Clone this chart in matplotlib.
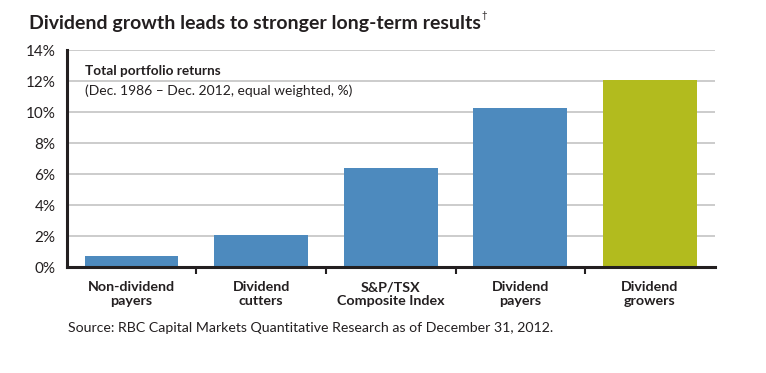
import matplotlib
matplotlib.use("Agg")
import matplotlib.pyplot as plt
from matplotlib.ticker import FixedLocator

categories = ["Non-dividend\npayers", "Dividend\ncutters", "S&P/TSX\nComposite Index",
              "Dividend\npayers", "Dividend\ngrowers"]
returns_pct = [0.7, 2.1, 6.4, 10.3, 12.1]
y_ticks = [0, 2, 4, 6, 8, 10, 12, 14]

FONT = ["Lato", "DejaVu Sans"]
TEXT = "#231F20"
BLUE = "#4D8ABE"
GREEN = "#B2BB1E"

plt.rcParams["font.family"] = FONT

fig = plt.figure(figsize=(7.66, 3.73), dpi=100)
ax = fig.add_axes([66.7 / 766, 1 - 267.3 / 373, 648 / 766, 217 / 373])

x = list(range(len(categories)))
colors = [BLUE] * (len(categories) - 1) + [GREEN]
ax.bar(x, returns_pct, width=0.725, color=colors, zorder=3)

ax.set_xlim(-0.5, len(categories) - 0.5)
ax.set_ylim(0, 14)
ax.set_yticks(y_ticks)
ax.set_yticklabels([f"{v}%" for v in y_ticks], fontsize=11, color=TEXT)
ax.yaxis.grid(True, color="#C4C4C4", linewidth=1.2, zorder=0)
ax.tick_params(axis="y", length=0, pad=8)

ax.set_xticks(x)
ax.set_xticklabels([])
ax.tick_params(axis="x", which="major", length=0)
ax.xaxis.set_minor_locator(FixedLocator([i + 0.5 for i in range(len(categories) - 1)]))
ax.tick_params(axis="x", which="minor", length=5, width=1.5, color=TEXT, direction="out")

for s in ["top", "right"]:
    ax.spines[s].set_visible(False)
for s in ["left", "bottom"]:
    ax.spines[s].set_linewidth(2.2)
    ax.spines[s].set_color(TEXT)
    ax.spines[s].set_zorder(5)

for i, lab in enumerate(categories):
    ax.text(i, -0.9, lab, ha="center", va="top", fontsize=10.3, fontweight="bold",
            color=TEXT, linespacing=1.15)

fig.text(29 / 766, 1 - 23 / 373, "Dividend growth leads to stronger long-term results",
         fontsize=14, fontweight="bold", color=TEXT, va="center", ha="left")
fig.text(481 / 766, 1 - 15 / 373, "\u2020", fontsize=7, color=TEXT, va="center", ha="left")

fig.text(85 / 766, 1 - 71 / 373, "Total portfolio returns", fontsize=9.8, fontweight="bold",
         color=TEXT, va="center", ha="left")
fig.text(85 / 766, 1 - 91 / 373, "(Dec. 1986 \u2013 Dec. 2012, equal weighted, %)", fontsize=10,
         color=TEXT, va="center", ha="left")

fig.text(68 / 766, 1 - 328 / 373,
         "Source: RBC Capital Markets Quantitative Research as of December 31, 2012.",
         fontsize=10.2, color=TEXT, va="center", ha="left")

fig.savefig("out.png", dpi=100)
